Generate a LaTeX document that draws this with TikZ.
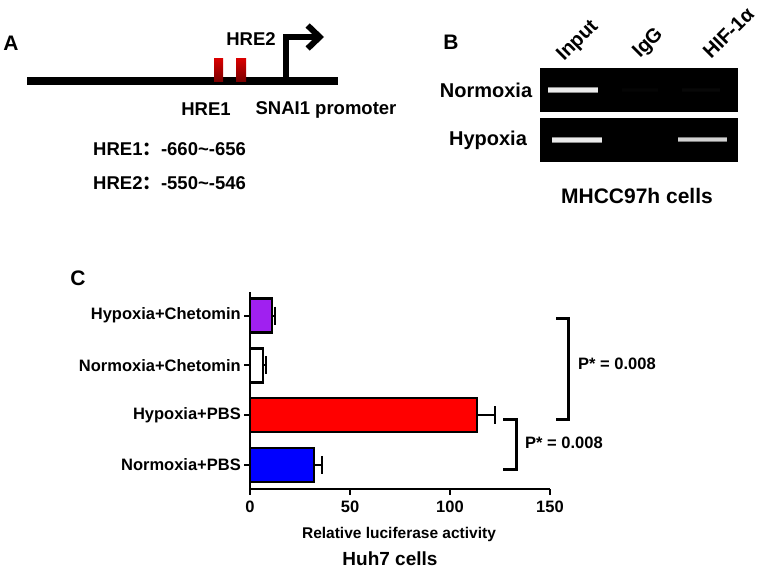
\documentclass[tikz,border=0pt]{standalone}
\usepackage{fontspec}
\setmainfont{Liberation Sans}
\newfontfamily\cjk{Noto Sans CJK SC}
\usetikzlibrary{arrows.meta,positioning}
\definecolor{chetpurple}{RGB}{160,32,240}
\definecolor{hrered}{RGB}{215,0,0}
\newcommand{\fs}[1]{\fontsize{#1}{#1}\selectfont\bfseries}
\newcommand{\gelband}[5]{% x1, x2, y, strength, thickness
  \draw[line width=#5pt+2pt,white!#4!black!60!black] (#1,#3) -- (#2,#3);
  \draw[line width=#5pt,white!#4!black] (#1,#3) -- (#2,#3);}

\begin{document}
\begin{tikzpicture}[x=1pt,y=-1pt,
    lbl/.style={inner sep=0pt,font=\fs{16.5}},
    panel/.style={inner sep=0pt,font=\fs{21}},
    bar/.style={draw=black,line width=2.5pt},
    bracket/.style={line width=3pt,line join=miter}]
\useasboundingbox (0,0) rectangle (760,572);

% A: promoter sketch
\node[panel] (labA) at (11,43) {A};
\draw[line width=8pt] (27,81) -- (338,81);
\shade[top color=hrered,bottom color=hrered!55!black] (214,59) rectangle (223,82);
\shade[top color=hrered,bottom color=hrered!55!black] (236,59) rectangle (246,82);
\coordinate (tss) at (286,81);
\coordinate (tssup) at (286,37);
\coordinate (tsstip) at (324,37);
\draw[line width=6pt,line join=miter,-{Straight Barb[length=12pt,width=23pt]}] (tss) -- (tssup) -- (tsstip);
\node[lbl,font=\fs{18.5}] (hretwo) at (251,39) {HRE2};
\node[lbl,font=\fs{18.5}] (hreone) at (206,109) {HRE1};
\node[lbl,font=\fs{18.5}] (snai) at (326,110) {SNAI1 promoter};
\node[lbl,font=\fs{18.5},anchor=west] (posone) at (93,149) {HRE1{\cjk ：}-660\textasciitilde-656};
\node[lbl,font=\fs{18.5},anchor=west] (postwo) at (93,183) {HRE2{\cjk ：}-550\textasciitilde-546};

% B: ChIP gel
\node[panel] (labB) at (451,42) {B};
\fill[black] (540,68) rectangle (738,112);
\fill[black] (540,118) rectangle (738,162);
\gelband{548}{598}{90}{92}{4}
\gelband{622}{658}{90}{2}{2}
\gelband{682}{720}{90}{3}{2}
\gelband{552}{602}{140}{92}{4}
\gelband{678}{727}{140}{82}{3}
\node[lbl,font=\fs{20},rotate=45,anchor=base west] (lInput) at (564,62) {Input};
\node[lbl,font=\fs{20},rotate=45,anchor=base west] (lIgG) at (640,59) {IgG};
\node[lbl,font=\fs{20},rotate=45,anchor=base west] (lHif) at (711,60) {HIF-1α};
\node[lbl,font=\fs{20}] (lNorm) at (486,90) {Normoxia};
\node[lbl,font=\fs{20}] (lHyp) at (488,140) {Hypoxia};
\node[lbl,font=\fs{21}] (cellsB) at (637,196) {MHCC97h cells};

% C: luciferase assay
\node[panel] (labC) at (78,278) {C};
\foreach \val/\err/\col/\name [count=\i from 0] in
    {11/12.5/chetpurple/Hypoxia+Chetomin,
     6.5/8/white/Normoxia+Chetomin,
     113.5/122.5/red/Hypoxia+PBS,
     32/36/blue/Normoxia+PBS}{
  \pgfmathsetmacro{\yc}{315.5+49.8*\i}
  \draw[line width=2pt] ({250+2*\val},\yc) -- ({250+2*\err},\yc);
  \draw[line width=2pt] ({250+2*\err},\yc-9) -- ({250+2*\err},\yc+9);
  \draw[bar,fill=\col] (250,\yc-17) rectangle ({250+2*\val},\yc+17);
  \draw[line width=2pt] (244,\yc) -- (250,\yc);
  \node[lbl,anchor=east] (ylab\i) at (241,\yc) {\name};
}
\draw[line width=2pt] (250,292) -- (250,489) -- (550,489);
\foreach \t in {0,50,100,150}{
  \draw[line width=2pt] ({250+2*\t},489) -- ({250+2*\t},495);
  \node[lbl] (xt\t) at ({250+2*\t},507) {\t};
}
\node[lbl,font=\fs{15.5}] (xlab) at (399,534) {Relative luciferase activity};
\node[lbl,font=\fs{19}] (cellsC) at (390,559) {Huh7 cells};

% significance brackets
\draw[bracket] (556,318) -- (568,318) -- (568,419) -- (556,419);
\node[lbl,anchor=west] (pone) at (578,364) {P* = 0.008};
\draw[bracket] (503,419) -- (516,419) -- (516,469) -- (503,469);
\node[lbl,anchor=west] (ptwo) at (525,443) {P* = 0.008};
\end{tikzpicture}
\end{document}
